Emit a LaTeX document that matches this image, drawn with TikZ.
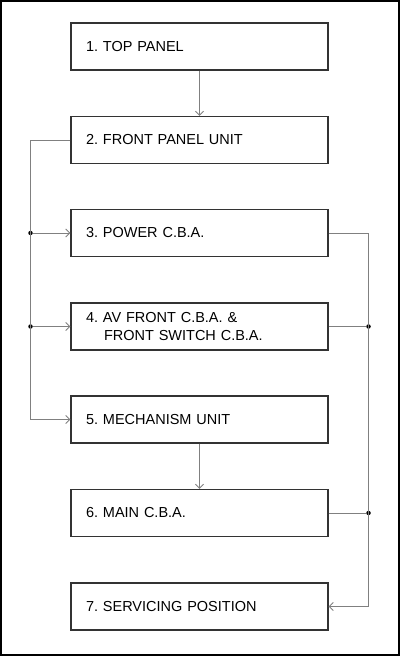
\documentclass[tikz,border=0pt]{standalone}
\usepackage{fontspec}
\setmainfont{Liberation Sans}
\usetikzlibrary{arrows.meta}
\frenchspacing
\tikzset{
  part/.style={draw=black!80, line width=1.4pt, fill=white, minimum height=47pt,
              text width=227pt, inner xsep=15pt, inner ysep=0pt, align=left,
              font=\fontsize{14.5}{17.5}\selectfont},
  link/.style={black!50, line width=0.8pt},
  feed/.style={link, -{Straight Barb[length=4pt,width=8pt]}},
  joint/.style={circle, fill=black, inner sep=0pt, minimum size=4.5pt},
}
\begin{document}
\begin{tikzpicture}[x=1pt,y=-1pt]
  \useasboundingbox (0,0) rectangle (400,656);
  \draw[black,line width=2pt] (1,1) rectangle (399,655);
  % parts, top to bottom
  \node[part] (toppanel) at (199.5,46.5) {1. TOP PANEL};
  \node[part] (frontunit) at (199.5,140) {2. FRONT PANEL UNIT};
  \node[part] (power) at (199.5,233) {3. POWER C.B.A.};
  \node[part] (avfront) at (199.5,326.5) {4. AV FRONT C.B.A. \&\\\hspace*{18pt}FRONT SWITCH C.B.A.};
  \node[part] (mech) at (199.5,419.5) {5. MECHANISM UNIT};
  \node[part] (maincba) at (199.5,513) {6. MAIN C.B.A.};
  \node[part] (servicing) at (199.5,606.5) {7. SERVICING POSITION};
  % left bus
  \coordinate (lbus) at (30.5,419.5);
  \node[joint] (jpower) at (30.5,233) {};
  \node[joint] (javfront) at (30.5,326.5) {};
  % right bus
  \coordinate (rbus) at (368.5,606.5);
  \node[joint] (ravfront) at (368.5,326.5) {};
  \node[joint] (rmain) at (368.5,513) {};
  % connectors
  \draw[feed] (toppanel) -- (frontunit);
  \draw[feed] (mech) -- (maincba);
  \draw[feed] (frontunit.west) -| (lbus) -- (mech.west);
  \draw[feed] (jpower) -- (power.west);
  \draw[feed] (javfront) -- (avfront.west);
  \draw[feed] (power.east) -| (rbus) -- (servicing.east);
  \draw[link] (avfront.east) -- (ravfront);
  \draw[link] (maincba.east) -- (rmain);
\end{tikzpicture}
\end{document}
